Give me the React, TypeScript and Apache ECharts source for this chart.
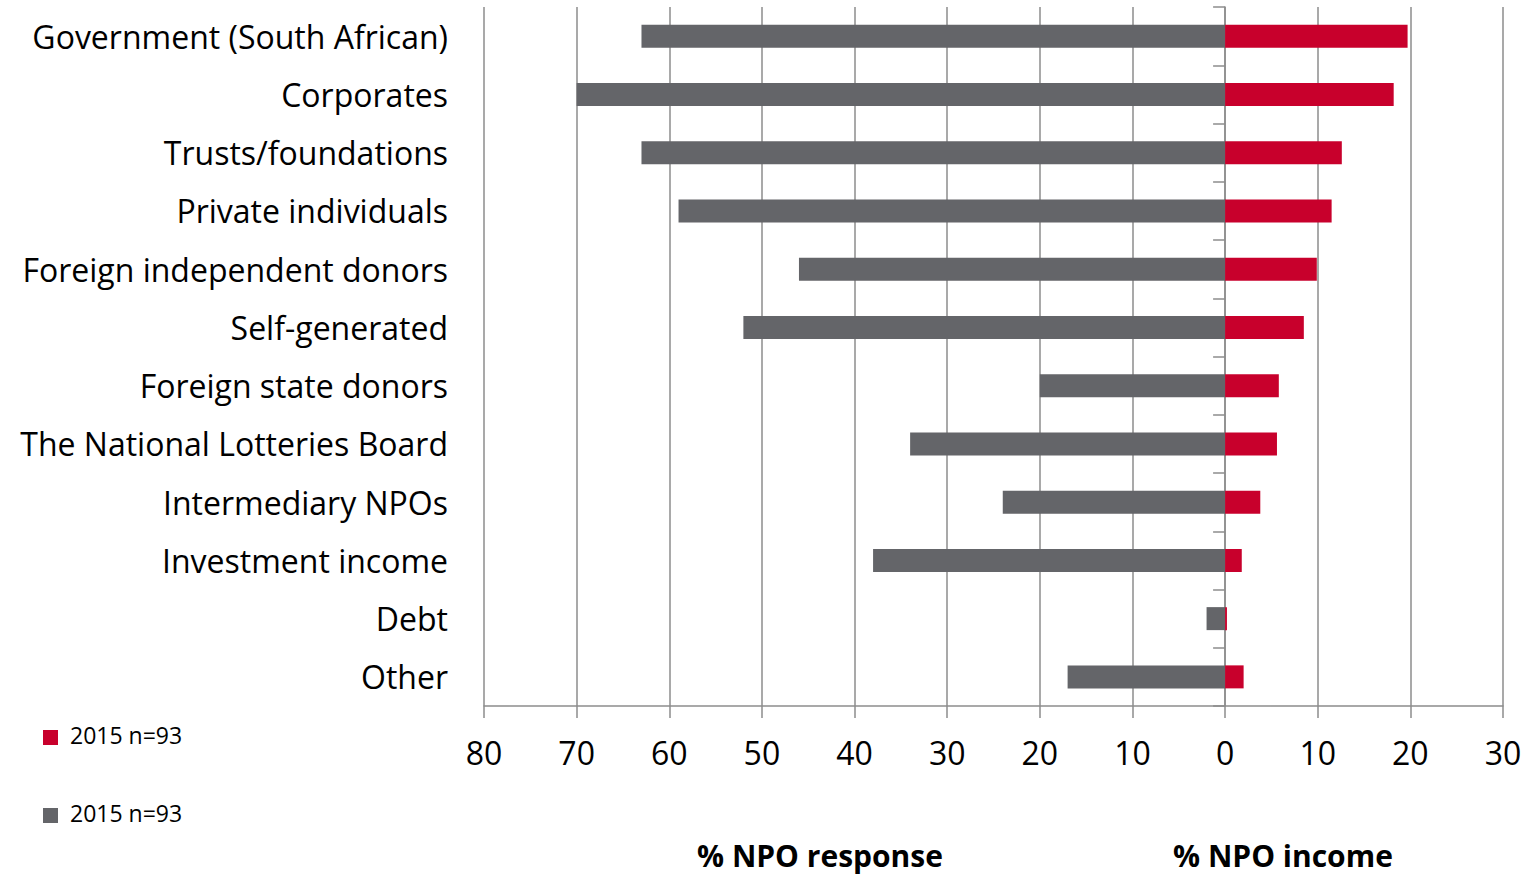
import React, { useEffect, useRef } from "react";
import * as echarts from "echarts";

const categories = [
  "Government (South African)",
  "Corporates",
  "Trusts/foundations",
  "Private individuals",
  "Foreign independent donors",
  "Self-generated",
  "Foreign state donors",
  "The National Lotteries Board",
  "Intermediary NPOs",
  "Investment income",
  "Debt",
  "Other",
];
const responseValues = [63, 70, 63, 59, 46, 52, 20, 34, 24, 38, 2, 17];
const incomeValues = [19.7, 18.2, 12.6, 11.5, 9.9, 8.5, 5.8, 5.6, 3.8, 1.8, 0.2, 2.0];
const legendLabels = ["2015 n=93", "2015 n=93"];
const axisTitles = ["% NPO response", "% NPO income"];

const RED = "#c8002c";
const GREY = "#646569";
const GRID = "#8c8c8c";
const FONT = "'Open Sans', 'Noto Sans', sans-serif";

export default function App() {
  const ref = useRef<HTMLDivElement>(null);
  useEffect(() => {
    if (!ref.current) return;
    const chart = echarts.init(ref.current, undefined, { renderer: "svg" });
    chart.setOption({
      animation: false,
      backgroundColor: "#ffffff",
      grid: { left: 484, right: 25, top: 7, height: 699, containLabel: false },
      xAxis: {
        type: "value",
        min: -80,
        max: 30,
        interval: 10,
        axisLine: { show: true, onZero: false, lineStyle: { color: GRID, width: 1.5 } },
        axisTick: { show: true, length: 12, lineStyle: { color: GRID, width: 1.5 } },
        splitLine: { show: true, lineStyle: { color: GRID, width: 1.5 } },
        axisLabel: {
          formatter: (v: number) => String(Math.abs(v)),
          fontSize: 32,
          color: "#000",
          fontFamily: FONT,
          margin: 30,
        },
      },
      yAxis: [
        {
          type: "category",
          data: categories,
          inverse: true,
          position: "left",
          axisLine: { show: false, onZero: false },
          axisTick: { show: false },
          axisLabel: { fontSize: 32, color: "#000", fontFamily: FONT, margin: 36 },
        },
        {
          type: "category",
          data: categories,
          inverse: true,
          position: "left",
          axisLine: { show: true, onZero: true, lineStyle: { color: GRID, width: 1.5 } },
          axisTick: { show: true, length: 12, lineStyle: { color: GRID, width: 1.5 } },
          axisLabel: { show: false },
        },
      ],
      series: [
        {
          type: "bar",
          name: "response",
          data: responseValues.map((v) => -v),
          barWidth: 23,
          barGap: "-100%",
          itemStyle: { color: GREY },
        },
        {
          type: "bar",
          name: "income",
          data: incomeValues,
          barWidth: 23,
          barGap: "-100%",
          itemStyle: { color: RED },
        },
      ],
      graphic: [
        { type: "rect", left: 43, top: 730, shape: { width: 15, height: 15 }, style: { fill: RED } },
        {
          type: "text",
          left: 70,
          top: 723,
          style: { text: legendLabels[0], fontSize: 23, fill: "#000", fontFamily: FONT },
        },
        { type: "rect", left: 43, top: 808, shape: { width: 15, height: 15 }, style: { fill: GREY } },
        {
          type: "text",
          left: 70,
          top: 801,
          style: { text: legendLabels[1], fontSize: 23, fill: "#000", fontFamily: FONT },
        },
        {
          type: "text",
          x: 820,
          y: 855,
          style: {
            text: axisTitles[0],
            fontSize: 30,
            fontWeight: "bold",
            fill: "#000",
            fontFamily: FONT,
            align: "center",
            verticalAlign: "middle",
          },
        },
        {
          type: "text",
          x: 1283,
          y: 855,
          style: {
            text: axisTitles[1],
            fontSize: 30,
            fontWeight: "bold",
            fill: "#000",
            fontFamily: FONT,
            align: "center",
            verticalAlign: "middle",
          },
        },
      ],
    });
    return () => chart.dispose();
  }, []);
  return (
    <div
      ref={ref}
      style={{ position: "fixed", left: 0, top: 0, width: 1528, height: 877 }}
    />
  );
}
